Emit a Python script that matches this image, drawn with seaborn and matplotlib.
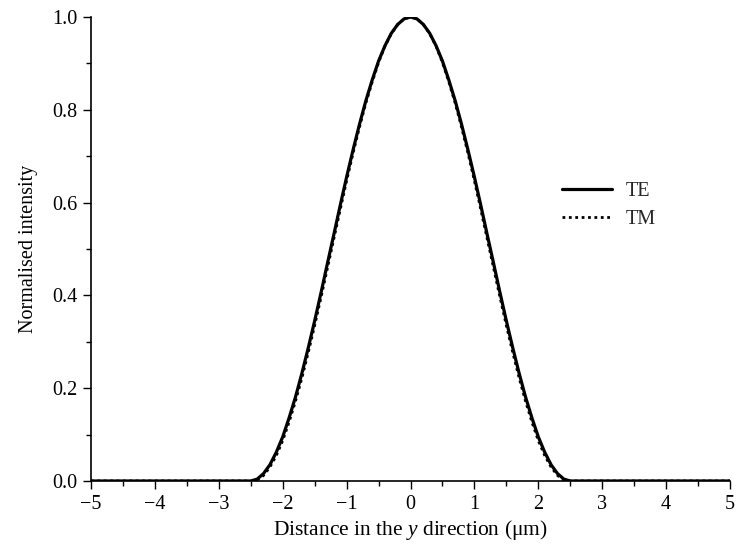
import numpy as np
import pandas as pd
import matplotlib
matplotlib.use("Agg")
import matplotlib.pyplot as plt
from matplotlib.ticker import MultipleLocator
import seaborn as sns

# Transverse position across the guide (µm)
position = [-5.0, -3.0,
            -2.5, -2.4, -2.3, -2.2, -2.1, -2.0, -1.9, -1.8, -1.7, -1.6,
            -1.5, -1.4, -1.3, -1.2, -1.1, -1.0, -0.9, -0.8, -0.7, -0.6,
            -0.5, -0.4, -0.3, -0.2, -0.1, 0.0, 0.1, 0.2, 0.3, 0.4,
            0.5, 0.6, 0.7, 0.8, 0.9, 1.0, 1.1, 1.2, 1.3, 1.4,
            1.5, 1.6, 1.7, 1.8, 1.9, 2.0, 2.1, 2.2, 2.3, 2.4,
            2.5, 3.0, 5.0]

# Normalised intensity of the TE mode
te_intensity = [0.0, 0.0,
                0.000, 0.004, 0.016, 0.035, 0.062, 0.095, 0.136, 0.181, 0.232, 0.287,
                0.345, 0.406, 0.469, 0.531, 0.594, 0.655, 0.713, 0.768, 0.819, 0.864,
                0.905, 0.938, 0.965, 0.984, 0.996, 1.000, 0.996, 0.984, 0.965, 0.938,
                0.905, 0.864, 0.819, 0.768, 0.713, 0.655, 0.594, 0.531, 0.469, 0.406,
                0.345, 0.287, 0.232, 0.181, 0.136, 0.095, 0.062, 0.035, 0.016, 0.004,
                0.000, 0.0, 0.0]

# Normalised intensity of the TM mode
tm_intensity = [0.0, 0.0,
                0.000, 0.002, 0.012, 0.030, 0.055, 0.087, 0.127, 0.172, 0.222, 0.277,
                0.335, 0.396, 0.459, 0.522, 0.585, 0.647, 0.706, 0.762, 0.814, 0.860,
                0.902, 0.937, 0.964, 0.984, 0.996, 1.000, 0.996, 0.984, 0.964, 0.937,
                0.902, 0.860, 0.814, 0.762, 0.706, 0.647, 0.585, 0.522, 0.459, 0.396,
                0.335, 0.277, 0.222, 0.172, 0.127, 0.087, 0.055, 0.030, 0.012, 0.002,
                0.000, 0.0, 0.0]

x_ticks = [-5, -4, -3, -2, -1, 0, 1, 2, 3, 4, 5]
y_ticks = [0.0, 0.2, 0.4, 0.6, 0.8, 1.0]

sns.set_style("ticks")
plt.rcParams["font.family"] = ["Liberation Serif", "DejaVu Serif"]
plt.rcParams["mathtext.fontset"] = "custom"
plt.rcParams["mathtext.rm"] = "Liberation Serif"
plt.rcParams["mathtext.it"] = "Liberation Serif:italic"

df = pd.DataFrame({
    "position": position * 2,
    "intensity": te_intensity + tm_intensity,
    "mode": ["TE"] * len(position) + ["TM"] * len(position),
})

fig = plt.figure(figsize=(7.38, 5.48), dpi=100)
ax = fig.add_axes([0.1233, 0.1223, 0.8659, 0.8467])

sns.lineplot(data=df[df["mode"] == "TE"], x="position", y="intensity",
             ax=ax, color="black", linewidth=2.3, label="TE")
sns.lineplot(data=df[df["mode"] == "TM"], x="position", y="intensity",
             ax=ax, color="black", linewidth=2.0, linestyle=(0, (1, 1.3)),
             label="TM")

ax.set_xlim(-5, 5)
ax.set_ylim(0, 1.0)
ax.set_xticks(x_ticks)
ax.set_xticklabels([f"{t}".replace("-", "\u2212") for t in x_ticks])
ax.set_yticks(y_ticks)
ax.set_yticklabels([f"{t:.1f}" for t in y_ticks])
ax.xaxis.set_minor_locator(MultipleLocator(0.5))
ax.yaxis.set_minor_locator(MultipleLocator(0.1))
ax.tick_params(which="major", direction="out", length=6, width=1.0,
               labelsize=14.5, color="black", labelcolor="black", pad=4)
ax.tick_params(which="minor", direction="out", length=3.5, width=1.0,
               color="black")

sns.despine(ax=ax)
for side in ("left", "bottom"):
    ax.spines[side].set_linewidth(1.2)
    ax.spines[side].set_color("black")

ax.set_xlabel(r"Distance in the $\it{y}$ direction (μm)", fontsize=15.5,
              color="black", labelpad=3)
ax.set_ylabel("Normalised intensity", fontsize=14.5, color="black",
              labelpad=10)

ax.legend(loc="center left", bbox_to_anchor=(0.737, 0.593), frameon=False,
          fontsize=14.5, handlelength=2.5, handletextpad=0.65,
          labelspacing=0.45, borderpad=0, borderaxespad=0)

fig.savefig("out.png", dpi=100, facecolor="white")
